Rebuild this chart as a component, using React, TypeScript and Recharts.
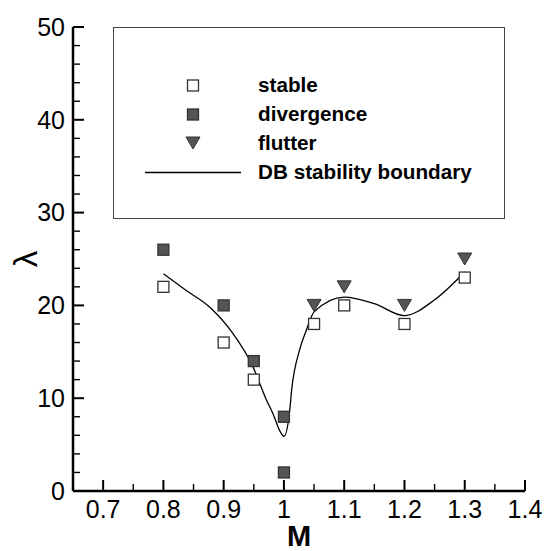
import { ComposedChart, XAxis, YAxis, Scatter, Line } from "recharts";

// Mach number / dynamic pressure λ test points
const stableM = [0.8, 0.9, 0.95, 1.05, 1.1, 1.2, 1.3];
const stableLam = [22, 16, 12, 18, 20, 18, 23];

const divergenceM = [0.8, 0.9, 0.95, 1.0, 1.0];
const divergenceLam = [26, 20, 14, 8, 2];

const flutterM = [1.05, 1.1, 1.2, 1.3];
const flutterLam = [20, 22, 20, 25];

// DB stability boundary
const boundaryM = [0.8, 0.838, 0.877, 0.915, 0.9485, 0.971, 0.982, 0.993, 1.0, 1.009, 1.013, 1.026, 1.037, 1.05, 1.1, 1.15, 1.2, 1.25, 1.3];
const boundaryLam = [23.4, 21.6, 19.8, 17.0, 13.4, 9.8, 8.3, 6.5, 5.9, 8.3, 11.0, 15.2, 17.3, 19.3, 20.9, 20.2, 18.9, 20.6, 23.6];

const mMajor = [0.7, 0.8, 0.9, 1.0, 1.1, 1.2, 1.3, 1.4];
const mMinor = [0.75, 0.85, 0.95, 1.05, 1.15, 1.25, 1.35];
const lamMajor = [0, 10, 20, 30, 40, 50];
const lamMinor = [2, 4, 6, 8, 12, 14, 16, 18, 22, 24, 26, 28, 32, 34, 36, 38, 42, 44, 46, 48];

const M_MIN = 0.65;
const M_MAX = 1.4;
const LAM_MIN = 0;
const LAM_MAX = 50;

const W = 546;
const H = 551;
// plot frame (pixels); the chart margins below are derived from it
const PLOT = { left: 73, right: 525, top: 27, bottom: 491 };

const zip = (ms: number[], ls: number[]) => ms.map((m, i) => ({ m, lam: ls[i] }));
const stableData = zip(stableM, stableLam);
const divergenceData = zip(divergenceM, divergenceLam);
const flutterData = zip(flutterM, flutterLam);
const boundaryData = zip(boundaryM, boundaryLam);

const FONT = "'Liberation Sans', Arial, Helvetica, sans-serif";
const MARK_FILL = "#555";
const MARK_EDGE = "#333";

const OpenSquare = ({ cx, cy }: any) => (
  <rect x={cx - 5.5} y={cy - 5.5} width={11} height={11} fill="#fff" stroke={MARK_EDGE} strokeWidth={1.3} />
);

const FilledSquare = ({ cx, cy }: any) => (
  <rect x={cx - 5.5} y={cy - 5.5} width={11} height={11} fill={MARK_FILL} stroke={MARK_EDGE} strokeWidth={1.3} />
);

const DownTriangle = ({ cx, cy }: any) => (
  <polygon
    points={`${cx - 7},${cy - 6} ${cx + 7},${cy - 6} ${cx},${cy + 6}`}
    fill={MARK_FILL}
    stroke={MARK_EDGE}
    strokeWidth={1}
  />
);

const fmtM = (v: number) => String(Math.round(v * 10) / 10);
const tickText = { fontSize: 25, fontFamily: FONT, fill: "#000" };

// axis position of a tick value inside the plot frame
const tx = (m: number) => PLOT.left + ((m - M_MIN) / (M_MAX - M_MIN)) * (PLOT.right - PLOT.left);
const ty = (l: number) => PLOT.bottom - ((l - LAM_MIN) / (LAM_MAX - LAM_MIN)) * (PLOT.bottom - PLOT.top);

const legendRows = [
  { label: "stable", kind: "open" },
  { label: "divergence", kind: "filled" },
  { label: "flutter", kind: "tri" },
  { label: "DB stability boundary", kind: "line" },
];
const rowY = [58.5, 87.5, 116, 145.5];

// inward tick marks, legend box and axis titles, laid over the chart
const Overlay = () => (
  <svg width={W} height={H} style={{ position: "absolute", left: 0, top: 0, pointerEvents: "none" }}>
    {mMajor.map((m) => (
      <line key={`xM${m}`} x1={tx(m)} x2={tx(m)} y1={PLOT.bottom} y2={PLOT.bottom - 11} stroke="#000" strokeWidth={2} />
    ))}
    {mMinor.map((m) => (
      <line key={`xm${m}`} x1={tx(m)} x2={tx(m)} y1={PLOT.bottom} y2={PLOT.bottom - 7} stroke="#000" strokeWidth={1.4} />
    ))}
    {lamMajor.map((l) => (
      <line key={`yM${l}`} x1={PLOT.left} x2={PLOT.left + 11} y1={ty(l)} y2={ty(l)} stroke="#000" strokeWidth={2} />
    ))}
    {lamMinor.map((l) => (
      <line key={`ym${l}`} x1={PLOT.left} x2={PLOT.left + 7} y1={ty(l)} y2={ty(l)} stroke="#000" strokeWidth={1.4} />
    ))}
    <g transform="translate(113 27)">
      <rect x={0.5} y={0.5} width={391} height={191} fill="#fff" stroke="#444" strokeWidth={1} />
      {legendRows.map((r, i) => {
        const cy = rowY[i];
        return (
          <g key={r.label}>
            {r.kind === "open" && <OpenSquare cx={80} cy={cy} />}
            {r.kind === "filled" && <FilledSquare cx={80} cy={cy} />}
            {r.kind === "tri" && <DownTriangle cx={80} cy={cy} />}
            {r.kind === "line" && <line x1={32} x2={128} y1={cy} y2={cy} stroke="#000" strokeWidth={1.3} />}
            <text x={145} y={cy + 6.5} fontSize={20.7} fontWeight="bold" fontFamily={FONT} fill="#000">
              {r.label}
            </text>
          </g>
        );
      })}
    </g>
    <text
      x={(PLOT.left + PLOT.right) / 2}
      y={546}
      textAnchor="middle"
      fontSize={29}
      fontWeight="bold"
      fontFamily={FONT}
      fill="#000"
    >
      M
    </text>
    <text
      x={25}
      y={259}
      transform="rotate(-90 25 259)"
      textAnchor="middle"
      dominantBaseline="central"
      fontSize={33}
      fontFamily={FONT}
      fill="#000"
    >
      λ
    </text>
  </svg>
);

export default function App() {
  return (
    <div style={{ position: "absolute", left: 0, top: 0, width: W, height: H, background: "#fff" }}>
      <ComposedChart
        width={W}
        height={H}
        margin={{ top: PLOT.top, right: W - PLOT.right, left: 0, bottom: 0 }}
      >
        <XAxis
          type="number"
          dataKey="m"
          domain={[M_MIN, M_MAX]}
          ticks={mMajor}
          interval={0}
          height={H - PLOT.bottom}
          tickSize={9}
          tickMargin={0}
          tickFormatter={fmtM}
          tick={tickText}
          tickLine={false}
          axisLine={{ stroke: "#000", strokeWidth: 2.5 }}
        />
        <YAxis
          type="number"
          dataKey="lam"
          domain={[LAM_MIN, LAM_MAX]}
          ticks={lamMajor}
          interval={0}
          width={PLOT.left}
          tickSize={8}
          tickMargin={0}
          tick={tickText}
          tickLine={false}
          axisLine={{ stroke: "#000", strokeWidth: 2.5 }}
        />
        <Scatter name="stable" data={stableData} shape={<OpenSquare />} isAnimationActive={false} />
        <Scatter name="divergence" data={divergenceData} shape={<FilledSquare />} isAnimationActive={false} />
        <Scatter name="flutter" data={flutterData} shape={<DownTriangle />} isAnimationActive={false} />
        <Line
          name="DB stability boundary"
          data={boundaryData}
          dataKey="lam"
          type="monotone"
          stroke="#000"
          strokeWidth={1.3}
          dot={false}
          activeDot={false}
          isAnimationActive={false}
        />
      </ComposedChart>
      <Overlay />
    </div>
  );
}
